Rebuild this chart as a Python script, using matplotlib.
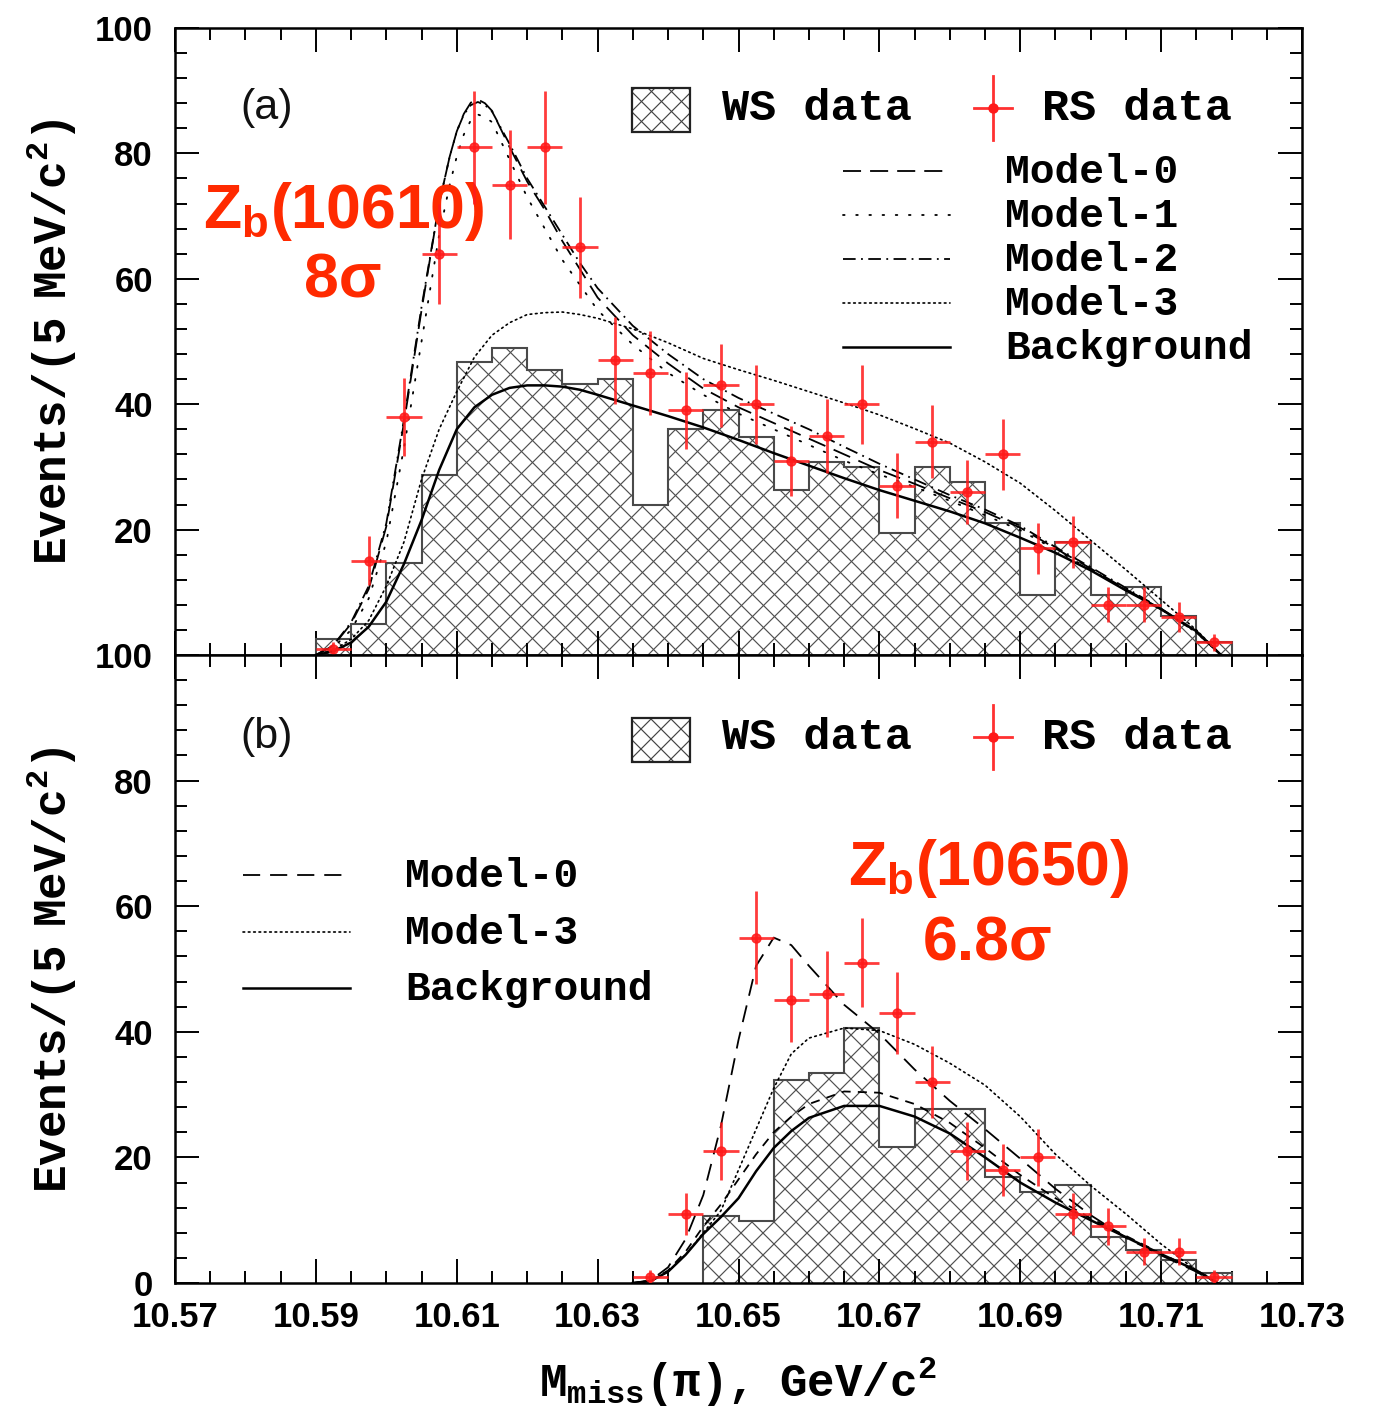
import numpy as np
import matplotlib
matplotlib.use('Agg')
import matplotlib.pyplot as plt
from matplotlib.collections import LineCollection
from matplotlib.transforms import IdentityTransform
from matplotlib.patches import Rectangle
from matplotlib.ticker import MultipleLocator

# ---- data ----
# WS histograms (5 MeV bins)
WS_TOP_EDGES = np.round(np.arange(10.590, 10.7201, 0.005), 3)
WS_TOP = [2.5, 5, 14.6, 28.7, 46.7, 49, 45.5, 43.3, 44, 24, 36, 39, 34.8,
          26.3, 30.8, 30, 19.4, 30, 27.6, 21, 9.6, 18, 9.6, 10.9, 6.2, 2.1]
WS_BOT_EDGES = np.round(np.arange(10.645, 10.7201, 0.005), 3)
WS_BOT = [10.6, 9.8, 32.3, 33.5, 40.6, 21.7, 27.7, 27.7, 16.9, 14.5, 15.6,
          7.4, 5.3, 3.7, 1.6]

# RS data points
RS_TOP_X = [10.5925, 10.5975, 10.6025, 10.6075, 10.6125, 10.6175, 10.6225,
            10.6275, 10.6325, 10.6375, 10.6425, 10.6475, 10.6525, 10.6575,
            10.6625, 10.6675, 10.6725, 10.6775, 10.6825, 10.6875, 10.6925,
            10.6975, 10.7025, 10.7075, 10.7125, 10.7175]
RS_TOP_N = [1, 15, 38, 64, 81, 75, 81, 65, 47, 45, 39, 43, 40, 31, 35, 40,
            27, 34, 26, 32, 17, 18, 8, 8, 6, 2]
RS_TOP_ERR = [1.0, 3.9, 6.2, 8.0, 9.0, 8.7, 9.0, 8.1, 6.9, 6.7, 6.2, 6.6, 6.3,
              5.6, 5.9, 6.3, 5.2, 5.8, 5.1, 5.7, 4.1, 4.2, 2.8, 2.8, 2.4, 1.4]
RS_BOT_X = [10.6375, 10.6425, 10.6475, 10.6525, 10.6575, 10.6625, 10.6675,
            10.6725, 10.6775, 10.6825, 10.6875, 10.6925, 10.6975, 10.7025,
            10.7075, 10.7125, 10.7175]
RS_BOT_N = [1, 11, 21, 55, 45, 46, 51, 43, 32, 21, 18, 20, 11, 9, 5, 5, 1]
RS_BOT_ERR = [1.0, 3.3, 4.6, 7.4, 6.7, 6.8, 7.1, 6.6, 5.7, 4.6, 4.2, 4.5, 3.3,
              3.0, 2.2, 2.2, 1.0]
HALF_BIN = 0.0025

# fit curves, top panel (peaked models sampled finer around the peak)
CX_PK = [10.590, 10.5925, 10.595, 10.5975, 10.600, 10.6025, 10.605, 10.6075,
         10.609, 10.610, 10.611, 10.612, 10.613, 10.614, 10.615, 10.6175,
         10.620, 10.6225, 10.625, 10.6275, 10.630, 10.635, 10.640, 10.645,
         10.650, 10.655, 10.660, 10.665, 10.670, 10.675, 10.680, 10.685,
         10.690, 10.695, 10.700, 10.705, 10.710, 10.715, 10.7185]
M0_TOP = [0, 1.5, 5, 10.5, 20.5, 37, 55, 72, 79.5, 83.5, 86.3, 88.1, 88.6, 88,
          86.8, 81, 75.5, 71, 66, 61.5, 57, 51, 46.5, 42.5, 39.5, 37, 34.5, 32,
          29.5, 27.3, 25, 22.8, 20.3, 17, 13.8, 10.5, 7.3, 3.6, 0]
M1_TOP = [0, 1.2, 4, 9, 18, 33, 50, 67, 75, 79.5, 83, 85.3, 86.2, 85.8, 85,
          79, 73, 68, 63, 59, 55, 49.5, 45, 41.5, 38.5, 36, 33.5, 31, 28.8,
          26.8, 24.6, 22.3, 19.9, 16.8, 13.6, 10.4, 7.3, 3.6, 0]
M2_TOP = [0, 1.6, 5.2, 11, 21, 37.5, 55.5, 72, 79.5, 83.5, 86.2, 87.7, 88.2,
          87.7, 86.7, 81.5, 76, 71.5, 67, 62.5, 58.5, 52.5, 48, 44, 41, 38.5,
          36, 33.2, 30.5, 28, 25.5, 23.2, 20.6, 17.2, 14, 10.7, 7.4, 3.7, 0]

CX_TOP = [10.590, 10.5925, 10.595, 10.5975, 10.600, 10.6025, 10.605, 10.6075,
          10.610, 10.6125, 10.615, 10.6175, 10.620, 10.6225, 10.625, 10.6275,
          10.630, 10.635, 10.640, 10.645, 10.650, 10.655, 10.660, 10.665,
          10.670, 10.675, 10.680, 10.685, 10.690, 10.695, 10.700, 10.705,
          10.710, 10.715, 10.7185]
M3_TOP = [0, 0.8, 2.5, 5.5, 11, 18, 28, 36, 42, 47.5, 51, 53, 54.3, 54.6, 54.7,
          54.3, 53.7, 52, 49.8, 47.3, 45.5, 43.8, 42, 40.2, 38.3, 36.1, 33.8,
          30.8, 27.4, 23, 18.3, 13.6, 8.8, 4, 0]
BG_TOP = [0, 0.6, 2, 4.5, 8.5, 14.5, 21.5, 29.5, 36, 39.5, 41.5, 42.6, 43, 43,
          42.8, 42.3, 41.5, 39.8, 38.1, 36.3, 34.3, 32.2, 30.2, 28.2, 26.3,
          24.6, 22.9, 21, 18.7, 16.3, 13.5, 10.3, 7.3, 3.8, 0]

# fit curves, bottom panel
CX_BOT = [10.635, 10.6375, 10.640, 10.6425, 10.645, 10.6475, 10.650, 10.6525,
          10.655, 10.6575, 10.660, 10.665, 10.670, 10.675, 10.680, 10.685,
          10.690, 10.695, 10.700, 10.705, 10.710, 10.715, 10.718]
M0_BOT = [0, 0.4, 2.5, 7, 14, 25, 38.7, 50.5, 55, 53.8, 50.5, 44.3, 39.7, 34,
          29, 24.5, 19.8, 15, 10.8, 7.2, 4.4, 1.8, 0]
M0B_BOT = [0, 0.3, 2, 5, 9, 12.5, 16.5, 20.5, 24, 26.5, 28.5, 30.5, 30.3,
           28.5, 25.5, 21.5, 17.2, 13.5, 10.3, 7.5, 4.7, 2, 0]
M3_BOT = [0, 0.4, 1.8, 4.5, 8, 11.5, 18, 24.5, 31, 36.5, 39, 40.6, 40.2, 38,
          35, 31.5, 26.5, 20.5, 15.5, 11, 6.2, 2, 0]
BG_BOT = [0, 0.3, 1.8, 4.5, 7.8, 10.5, 13.5, 17.8, 21.5, 24.2, 26.3, 28.2,
          28.2, 26.5, 23.8, 20, 16, 12.8, 10, 7.3, 4.6, 2, 0]

XTICKS = [10.57, 10.59, 10.61, 10.63, 10.65, 10.67, 10.69, 10.71, 10.73]
XTICKLABELS = ['10.57', '10.59', '10.61', '10.63', '10.65', '10.67', '10.69',
               '10.71', '10.73']

RED = '#ff1a1a'
ANNO = '#ff2a00'

plt.rcParams['font.family'] = ['Liberation Sans', 'DejaVu Sans']
plt.rcParams['mathtext.fontset'] = 'custom'
for k in ('rm', 'it', 'bf', 'sf', 'tt'):
    plt.rcParams['mathtext.' + k] = 'Liberation Mono:bold'
MONO = ['Liberation Mono', 'DejaVu Sans Mono']


def crosshatch(ax, clip, step=22, color='#505050', lw=0.85, z=1):
    # diagonal cross hatch in pixel space, clipped to a patch
    bb = ax.bbox
    h = bb.height
    segs = []
    for c in np.arange(bb.x0 - h, bb.x1 + h, step):
        segs.append([(c, bb.y0), (c + h, bb.y1)])
        segs.append([(c, bb.y1), (c + h, bb.y0)])
    lc = LineCollection(segs, colors=color, linewidths=lw,
                        transform=IdentityTransform(), zorder=z)
    ax.add_collection(lc, autolim=False)
    lc.set_clip_path(clip)


def ws_hist(ax, edges, vals):
    fillp = ax.stairs(vals, edges, baseline=0, fill=True, facecolor='none',
                      edgecolor='none')
    crosshatch(ax, fillp)
    ax.stairs(vals, edges, baseline=0, fill=False, color='#4a4a4a', lw=1.5,
              zorder=2)


def rs_points(ax, x, n, err):
    ax.errorbar(x, n, yerr=err, xerr=HALF_BIN, fmt='o', ms=6.5, color=RED,
                ecolor=RED, elinewidth=2, capsize=0, alpha=0.85, zorder=6)


def legend_top_row(ax, ybox0, ybox1, ytext, ymark):
    rect = Rectangle((0.4055, ybox0), 0.0515, ybox1 - ybox0,
                     transform=ax.transAxes, facecolor='none',
                     edgecolor='#222222', lw=1.6, zorder=8)
    ax.add_patch(rect)
    crosshatch(ax, rect, step=20, color='#444444', z=7)
    ax.text(0.4854, ytext, 'WS data', transform=ax.transAxes, fontsize=32.5,
            family=MONO, fontweight='bold', va='baseline', ha='left')
    ax.plot([0.7258, 0.7258], [ymark - 0.051, ymark + 0.051],
            transform=ax.transAxes, color=RED, lw=2, alpha=0.9, clip_on=False)
    ax.plot([0.7258 - 0.0169, 0.7258 + 0.0169], [ymark, ymark],
            transform=ax.transAxes, color=RED, lw=2, alpha=0.9, clip_on=False)
    ax.plot([0.7258], [ymark], 'o', ms=6.5, color=RED,
            transform=ax.transAxes, clip_on=False)
    ax.text(0.7693, ytext, 'RS data', transform=ax.transAxes, fontsize=32.5,
            family=MONO, fontweight='bold', va='baseline', ha='left')


def legend_line(ax, x0, x1, y, xt, label, **kw):
    ax.plot([x0, x1], [y, y], transform=ax.transAxes, color='black', **kw)
    ax.text(xt, y - 0.019, label, transform=ax.transAxes, fontsize=29.7,
            family=MONO, fontweight='bold', va='baseline', ha='left')


STY = {
    'm0': dict(lw=1.3, dashes=(10, 5)),
    'm1': dict(lw=1.3, dashes=(0.9, 6.4), dash_capstyle='round'),
    'm2': dict(lw=1.3, dashes=(7, 3, 1, 3)),
    'm3': dict(lw=1.2, dashes=(1, 2.2), dash_capstyle='round'),
    'bg': dict(lw=1.8),
    'm0b': dict(lw=1.3, dashes=(9.5, 5.5)),
    'm0bb': dict(lw=1.3, dashes=(5, 4)),
}

fig = plt.figure(figsize=(13.78, 14.10), dpi=100)
ax1 = fig.add_axes([175 / 1378, 755 / 1410, 1127 / 1378, 627 / 1410])
ax2 = fig.add_axes([175 / 1378, 127 / 1410, 1127 / 1378, 628 / 1410])

for ax in (ax1, ax2):
    ax.set_xlim(10.57, 10.73)
    ax.set_ylim(0, 100)
    ax.set_xticks(XTICKS)
    ax.set_xticklabels(XTICKLABELS)
    ax.xaxis.set_minor_locator(MultipleLocator(0.005))
    ax.yaxis.set_minor_locator(MultipleLocator(4))
    ax.tick_params(which='both', direction='in', top=True, right=True,
                   width=1.4, labelsize=25)
    ax.tick_params(which='major', length=17)
    ax.tick_params(which='minor', length=8.5)
    ax.tick_params(axis='y', pad=16)
    ax.tick_params(axis='x', pad=13)
    for lab in ax.get_xticklabels() + ax.get_yticklabels():
        lab.set_fontweight('bold')
    for s in ax.spines.values():
        s.set_linewidth(1.8)

ax1.set_yticks([20, 40, 60, 80, 100])
ax1.set_yticklabels(['20', '40', '60', '80', '100'], fontweight='bold')
ax1.tick_params(axis='x', labelbottom=False)
ax2.set_yticks([0, 20, 40, 60, 80, 100])
ax2.set_yticklabels(['0', '20', '40', '60', '80', '100'], fontweight='bold')

# ---- top panel ----
ws_hist(ax1, WS_TOP_EDGES, WS_TOP)
ax1.plot(CX_TOP, M3_TOP, color='black', zorder=3, **STY['m3'])
ax1.plot(CX_PK, M1_TOP, color='black', zorder=3, **STY['m1'])
ax1.plot(CX_PK, M2_TOP, color='black', zorder=3, **STY['m2'])
ax1.plot(CX_PK, M0_TOP, color='black', zorder=3, **STY['m0'])
ax1.plot(CX_TOP, BG_TOP, color='black', zorder=3, **STY['bg'])
rs_points(ax1, RS_TOP_X, RS_TOP_N, RS_TOP_ERR)

legend_top_row(ax1, 0.8341, 0.9043, 0.8533, 0.8724)
lx0, lx1, ltx = 0.5927, 0.6877, 0.7365
legend_line(ax1, lx0, lx1, 0.7719, ltx, 'Model-0', **STY['m0'])
legend_line(ax1, lx0, lx1, 0.7018, ltx, 'Model-1', **STY['m1'])
legend_line(ax1, lx0, lx1, 0.6316, ltx, 'Model-2', **STY['m2'])
legend_line(ax1, lx0, lx1, 0.5614, ltx, 'Model-3', **STY['m3'])
legend_line(ax1, lx0, lx1, 0.4912, ltx, 'Background', **STY['bg'])

ax1.text(0.0577, 0.8724, '(a)', transform=ax1.transAxes, fontsize=31,
         va='center', ha='left', color='#111111')
ax1.text(0.150, 0.681, 'Z$_\\mathregular{b}$(10610)', transform=ax1.transAxes,
         fontsize=45, fontweight='bold', color=ANNO, ha='center',
         va='baseline')
ax1.text(0.149, 0.5694, '8σ', transform=ax1.transAxes, fontsize=45,
         fontweight='bold', color=ANNO, ha='center', va='baseline')

# ---- bottom panel ----
ws_hist(ax2, WS_BOT_EDGES, WS_BOT)
ax2.plot(CX_BOT, M3_BOT, color='black', zorder=3, **STY['m3'])
ax2.plot(CX_BOT, M0B_BOT, color='black', zorder=3, **STY['m0bb'])
ax2.plot(CX_BOT, M0_BOT, color='black', zorder=3, **STY['m0b'])
ax2.plot(CX_BOT, BG_BOT, color='black', zorder=3, **STY['bg'])
rs_points(ax2, RS_BOT_X, RS_BOT_N, RS_BOT_ERR)

legend_top_row(ax2, 0.8296, 0.8997, 0.8503, 0.8694)
bx0, bx1, btx = 0.0603, 0.1553, 0.2041
legend_line(ax2, bx0, bx1, 0.6497, btx, 'Model-0', **STY['m0b'])
legend_line(ax2, bx0, bx1, 0.5589, btx, 'Model-3', **STY['m3'])
legend_line(ax2, bx0, bx1, 0.4697, btx, 'Background', **STY['bg'])

ax2.text(0.0577, 0.8694, '(b)', transform=ax2.transAxes, fontsize=31,
         va='center', ha='left', color='#111111')
ax2.text(0.7223, 0.6338, 'Z$_\\mathregular{b}$(10650)', transform=ax2.transAxes,
         fontsize=45, fontweight='bold', color=ANNO, ha='center',
         va='baseline')
ax2.text(0.7214, 0.5143, '6.8σ', transform=ax2.transAxes, fontsize=45,
         fontweight='bold', color=ANNO, ha='center', va='baseline')

# axis titles
ylab = r'$\mathrm{Events/(5\ \ MeV/c^{2})}$'
fig.text(52 / 1378, 0.7574, ylab, rotation=90, ha='center', va='center',
         fontsize=33)
fig.text(52 / 1378, 0.312, ylab, rotation=90, ha='center', va='center',
         fontsize=33)
fig.text(738 / 1378, 13 / 1410, r'$\mathrm{M_{miss}(\pi),\ \ GeV/c^{2}}$',
         ha='center', va='baseline', fontsize=33)

fig.savefig('out.png', dpi=100)
